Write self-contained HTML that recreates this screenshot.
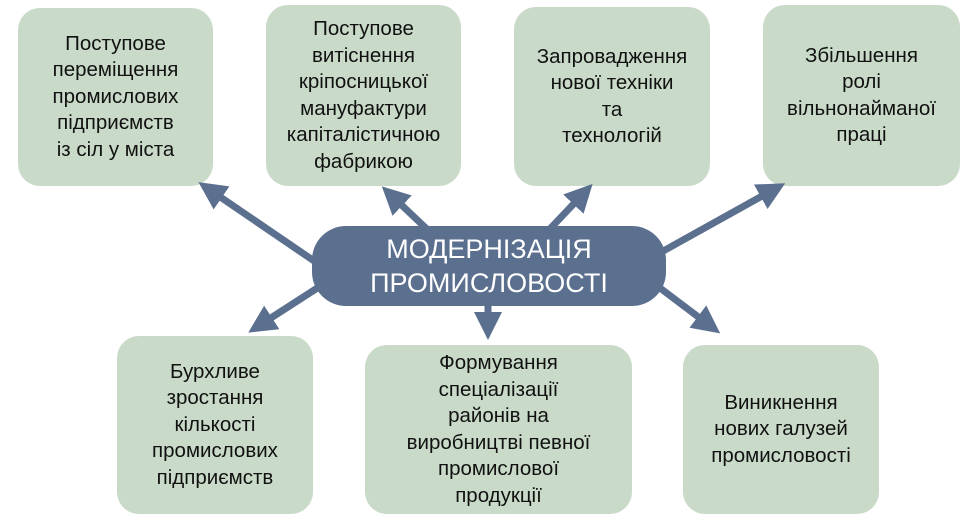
<!DOCTYPE html>
<html><head><meta charset="utf-8"><style>
body{margin:0;width:968px;height:521px;background:#fff;position:relative;overflow:hidden;font-family:"Liberation Sans",sans-serif}
.b{position:absolute;background:#c9dac9;border-radius:22px;display:flex;align-items:center;justify-content:center;text-align:center;font-size:20.5px;line-height:26.5px;color:#111}
.c{position:absolute;left:312px;top:226px;width:354px;height:80px;background:#5b6f8f;border-radius:34px;color:#fff;font-size:27px;line-height:34px;display:flex;align-items:center;justify-content:center;text-align:center}
svg{position:absolute;left:0;top:0}
</style></head><body>
<div class="b" style="left:18px;top:8px;width:195px;height:178px">Поступове<br>переміщення<br>промислових<br>підприємств<br>із сіл у міста</div>
<div class="b" style="left:266px;top:5px;width:195px;height:181px">Поступове<br>витіснення<br>кріпосницької<br>мануфактури<br>капіталістичною<br>фабрикою</div>
<div class="b" style="left:514px;top:7px;width:196px;height:179px">Запровадження<br>нової техніки<br>та<br>технологій</div>
<div class="b" style="left:763px;top:5px;width:197px;height:181px">Збільшення<br>ролі<br>вільнонайманої<br>праці</div>
<div class="b" style="left:117px;top:336px;width:196px;height:178px">Бурхливе<br>зростання<br>кількості<br>промислових<br>підприємств</div>
<div class="b" style="left:365px;top:345px;width:267px;height:169px">Формування<br>спеціалізації<br>районів на<br>виробництві певної<br>промислової<br>продукції</div>
<div class="b" style="left:683px;top:345px;width:196px;height:169px">Виникнення<br>нових галузей<br>промисловості</div>
<svg width="968" height="521"><defs><marker id="a" markerWidth="4" markerHeight="4" refX="2" refY="2" orient="auto" markerUnits="strokeWidth"><path d="M0,0 L4,2 L0,4 z" fill="#5b6f8f"/></marker></defs>
<g stroke="#5b6f8f" stroke-width="7" marker-end="url(#a)">
<line x1="320" y1="265" x2="210" y2="190"/>
<line x1="430" y1="232" x2="392" y2="196"/>
<line x1="547" y1="232" x2="583" y2="194"/>
<line x1="656" y1="255" x2="773" y2="190"/>
<line x1="322" y1="285" x2="260" y2="325"/>
<line x1="488" y1="300" x2="488" y2="326"/>
<line x1="656" y1="285" x2="709" y2="325"/>
</g></svg>
<div class="c">МОДЕРНІЗАЦІЯ<br>ПРОМИСЛОВОСТІ</div>
</body></html>
